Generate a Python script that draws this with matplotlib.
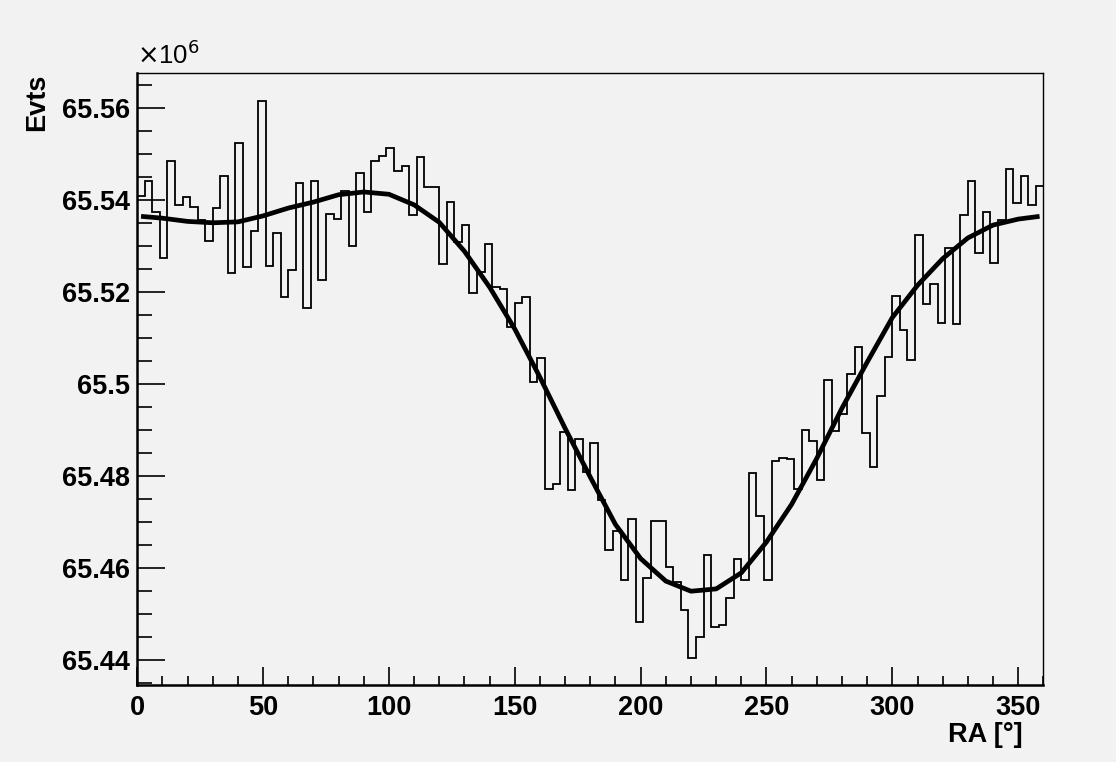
import numpy as np
import matplotlib.pyplot as plt
from matplotlib.ticker import MultipleLocator, FuncFormatter

# RA histogram, 120 bins of 3 degrees, counts in units of 1e6
ra_lo, ra_hi, n_bins = 0, 360, 120
evts = [
    65.5409, 65.5441, 65.5374, 65.5274, 65.5484, 65.5388, 65.5406, 65.5385, 65.5357, 65.5310,
    65.5382, 65.5451, 65.5240, 65.5523, 65.5253, 65.5332, 65.5615, 65.5256, 65.5328, 65.5189,
    65.5247, 65.5437, 65.5165, 65.5441, 65.5225, 65.5370, 65.5359, 65.5420, 65.5299, 65.5459,
    65.5374, 65.5484, 65.5495, 65.5512, 65.5462, 65.5473, 65.5367, 65.5494, 65.5427, 65.5427,
    65.5261, 65.5395, 65.5308, 65.5345, 65.5198, 65.5243, 65.5303, 65.5211, 65.5207, 65.5123,
    65.5176, 65.5189, 65.5003, 65.5055, 65.4772, 65.4783, 65.4895, 65.4770, 65.4881, 65.4808,
    65.4871, 65.4747, 65.4638, 65.4679, 65.4574, 65.4705, 65.4482, 65.4578, 65.4701, 65.4701,
    65.4601, 65.4569, 65.4509, 65.4404, 65.4449, 65.4627, 65.4472, 65.4475, 65.4534, 65.4620,
    65.4574, 65.4807, 65.4712, 65.4574, 65.4832, 65.4839, 65.4836, 65.4772, 65.4900, 65.4875,
    65.4790, 65.5009, 65.4897, 65.4935, 65.5021, 65.5080, 65.4892, 65.4818, 65.4973, 65.5058,
    65.5190, 65.5116, 65.5051, 65.5324, 65.5174, 65.5218, 65.5133, 65.5296, 65.5129, 65.5367,
    65.5441, 65.5285, 65.5374, 65.5263, 65.5355, 65.5466, 65.5392, 65.5451, 65.5388, 65.5431,
]

# fitted curve
fit_ra = [1.5, 10, 20, 30, 40, 50, 60, 70, 80, 90, 100, 110, 120, 130, 140, 150, 160, 170, 180,
          190, 200, 210, 220, 230, 240, 250, 260, 270, 280, 290, 300, 310, 320, 330, 340, 350, 358.5]
fit_evts = [65.5364, 65.5360, 65.5353, 65.5350, 65.5352, 65.5365, 65.5382, 65.5395, 65.5411,
            65.5417, 65.5412, 65.5389, 65.5351, 65.5288, 65.5210, 65.5119, 65.5014, 65.4903,
            65.4797, 65.4694, 65.4620, 65.4571, 65.4549, 65.4554, 65.4589, 65.4656, 65.4738,
            65.4838, 65.4947, 65.5047, 65.5144, 65.5214, 65.5272, 65.5317, 65.5345, 65.5358,
            65.5364]

bg = "#f2f2f2"
plt.rcParams['font.family'] = ['Liberation Sans', 'DejaVu Sans']

fig = plt.figure(figsize=(11.16, 7.62), dpi=100, facecolor=bg)
ax = fig.add_axes([0.1230, 0.1010, 0.8119, 0.8028], facecolor=bg)

edges = np.linspace(ra_lo, ra_hi, n_bins + 1)
ax.stairs(evts, edges, baseline=None, color="black", lw=1.3)
ax.plot(fit_ra, fit_evts, color="black", lw=3.4, solid_capstyle="butt")

ax.set_xlim(ra_lo, ra_hi)
ax.set_ylim(65.4345, 65.5675)

ax.xaxis.set_major_locator(MultipleLocator(50))
ax.xaxis.set_minor_locator(MultipleLocator(10))
ax.yaxis.set_major_locator(MultipleLocator(0.02))
ax.yaxis.set_minor_locator(MultipleLocator(0.005))
ax.yaxis.set_major_formatter(FuncFormatter(lambda v, p: "%g" % round(v, 4)))

ax.tick_params(axis="both", which="both", direction="in", top=False, right=False,
               labelsize=19.5, width=1.2)
ax.tick_params(axis="x", which="major", length=13, pad=7)
ax.tick_params(axis="x", which="minor", length=6.5)
ax.tick_params(axis="y", which="major", length=20, pad=5)
ax.tick_params(axis="y", which="minor", length=10.5)
for lab in ax.get_xticklabels() + ax.get_yticklabels():
    lab.set_fontweight("bold")

for side in ["left", "bottom"]:
    ax.spines[side].set_linewidth(1.8)
for side in ["top", "right"]:
    ax.spines[side].set_linewidth(1.0)

fig.text(0.1230, 0.910, r"$\times$10$^{6}$", fontsize=18.5, ha="left", va="bottom")
fig.text(0.033, 0.904, "Evts", rotation=90, ha="center", va="top",
         fontsize=19.5, fontweight="bold")
fig.text(0.916, 0.035, "RA [°]", ha="right", va="center",
         fontsize=19.5, fontweight="bold")

fig.savefig("out.png", dpi=100, facecolor=bg)
